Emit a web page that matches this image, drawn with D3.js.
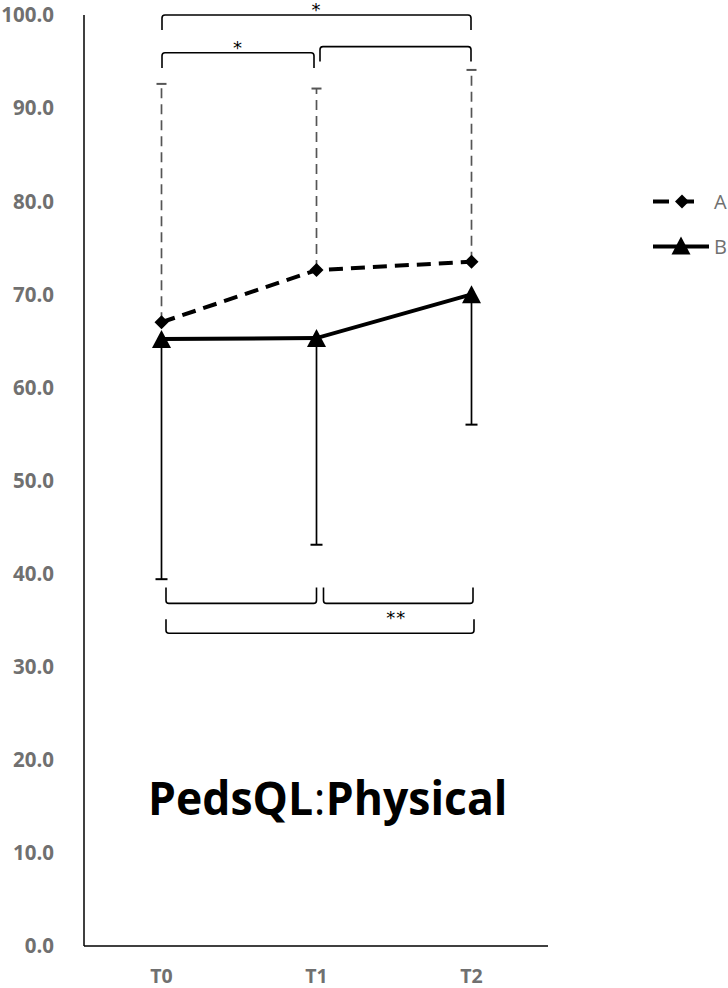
<!DOCTYPE html>
<html><head><meta charset="utf-8">
<script src="https://cdn.jsdelivr.net/npm/d3@7"></script>
<style>html,body{margin:0;padding:0;background:#fff}</style>
</head><body>
<script>
// ---- data ----
const categories = ["T0", "T1", "T2"];
const seriesNames = ["A", "B"];
const valuesA = [67.0, 72.6, 73.5];
const upperA = [92.6, 92.1, 94.1];      // error bar upper ends (A)
const valuesB = [65.2, 65.3, 70.0];
const lowerB = [39.4, 43.1, 56.0];      // error bar lower ends (B)
const yTicks = [0, 10, 20, 30, 40, 50, 60, 70, 80, 90, 100];
const titleParts = ["PedsQL", ":", "Physical"];
const titleWeights = ["bold", "normal", "bold"];
// significance brackets: from, to, bar level, leg end level, label
const bracketFrom = ["T0", "T0", "T1", "T0", "T1", "T0"];
const bracketTo   = ["T2", "T1", "T2", "T1", "T2", "T2"];
const bracketLevel = [100.0, 95.95, 96.6, 36.8, 36.8, 33.6];
const bracketLeg   = [98.4, 94.3, 95.0, 38.5, 38.5, 35.1];
const bracketLabel = ["*", "*", "", "", "**", ""];

// ---- layout ----
const W = 728, H = 988;
const svg = d3.select("body").append("svg").attr("width", W).attr("height", H)
  .style("font-family", "'Open Sans', sans-serif");

const x = d3.scalePoint().domain(categories).range([161.5, 471.5]);
const y = d3.scaleLinear().domain([0, 100]).range([946, 15]);
const axisX0 = 84, axisX1 = 548;

// axes lines
svg.append("line").attr("x1", axisX0).attr("x2", axisX0).attr("y1", y(100)).attr("y2", y(0))
  .attr("stroke", "#000").attr("stroke-width", 1.5);
svg.append("line").attr("x1", axisX0).attr("x2", axisX1).attr("y1", y(0)).attr("y2", y(0))
  .attr("stroke", "#000").attr("stroke-width", 1.5);

// y tick labels
svg.append("g").selectAll("text").data(yTicks).join("text")
  .attr("x", 54).attr("y", d => y(d)).attr("dy", "0.36em")
  .attr("text-anchor", "end").attr("font-weight", "bold").attr("font-size", 20.5)
  .attr("fill", "#707070").text(d => d.toFixed(1));

// x tick labels
svg.append("g").selectAll("text").data(categories).join("text")
  .attr("x", d => x(d)).attr("y", 983)
  .attr("text-anchor", "middle").attr("font-weight", "bold").attr("font-size", 19.5)
  .attr("fill", "#707070").text(d => d);

// error bars A (upper, dashed gray)
const gA = svg.append("g");
categories.forEach((c, i) => {
  gA.append("line").attr("x1", x(c)).attr("x2", x(c)).attr("y1", y(valuesA[i])).attr("y2", y(upperA[i]))
    .attr("stroke", "#555").attr("stroke-width", 1.7).attr("stroke-dasharray", "10,6");
  gA.append("line").attr("x1", x(c) - 5).attr("x2", x(c) + 5).attr("y1", y(upperA[i])).attr("y2", y(upperA[i]))
    .attr("stroke", "#555").attr("stroke-width", 2);
});
// error bars B (lower, solid black)
const gB = svg.append("g");
categories.forEach((c, i) => {
  gB.append("line").attr("x1", x(c)).attr("x2", x(c)).attr("y1", y(valuesB[i])).attr("y2", y(lowerB[i]))
    .attr("stroke", "#000").attr("stroke-width", 1.7);
  gB.append("line").attr("x1", x(c) - 6).attr("x2", x(c) + 6).attr("y1", y(lowerB[i])).attr("y2", y(lowerB[i]))
    .attr("stroke", "#000").attr("stroke-width", 2);
});

// lines
const line = d3.line().x((d, i) => x(categories[i])).y(d => y(d));
svg.append("path").datum(valuesA).attr("d", line).attr("fill", "none")
  .attr("stroke", "#000").attr("stroke-width", 4).attr("stroke-dasharray", "14,8");
svg.append("path").datum(valuesB).attr("d", line).attr("fill", "none")
  .attr("stroke", "#000").attr("stroke-width", 4);

// markers
function diamond(cx, cy, r) {
  const p = d3.path();
  p.moveTo(cx, cy - r); p.lineTo(cx + r, cy); p.lineTo(cx, cy + r); p.lineTo(cx - r, cy); p.closePath();
  return p.toString();
}
function triangle(cx, cy, w, h) {
  const p = d3.path();
  p.moveTo(cx, cy - h / 2); p.lineTo(cx + w / 2, cy + h / 2); p.lineTo(cx - w / 2, cy + h / 2); p.closePath();
  return p.toString();
}
svg.append("g").selectAll("path").data(valuesA).join("path")
  .attr("d", (d, i) => diamond(x(categories[i]), y(d), 7)).attr("fill", "#000");
svg.append("g").selectAll("path").data(valuesB).join("path")
  .attr("d", (d, i) => triangle(x(categories[i]), y(d), 19, 18)).attr("fill", "#000");

// brackets
const gBr = svg.append("g");
bracketFrom.forEach((f, i) => {
  const top = bracketLevel[i] > 50;
  let x1 = x(f), x2 = x(bracketTo[i]);
  if (top) { x1 += 0.5; if (bracketTo[i] === "T1") x2 -= 2; if (f === "T1") x1 += 3; x2 -= 0.5; }
  else { x1 += 4.5; if (bracketTo[i] === "T1") x2 -= 1.5; if (f === "T1") x1 += 2.5; x2 += bracketFrom[i]==="T0" && bracketTo[i]==="T2" ? 2.5 : 1.5; }
  const yb = y(bracketLevel[i]), yl = y(bracketLeg[i]);
  const dir = yl > yb ? 1 : -1;
  const p = d3.path();
  p.moveTo(x1, yl);
  p.lineTo(x1, yb + dir * 3);
  p.quadraticCurveTo(x1, yb, x1 + 3, yb);
  p.lineTo(x2 - 3, yb);
  p.quadraticCurveTo(x2, yb, x2, yb + dir * 3);
  p.lineTo(x2, yl);
  gBr.append("path").attr("d", p.toString()).attr("fill", "none").attr("stroke", "#000").attr("stroke-width", 1.6);
  if (bracketLabel[i]) {
    const tx = top ? (x1 + x2) / 2 : (x1 + x2) / 2 - 2;
    const ty = top ? yb + 1 : yb + 21;
    gBr.append("text").attr("x", tx).attr("y", ty).attr("text-anchor", "middle")
      .attr("font-family", "'DejaVu Sans', sans-serif")
      .attr("font-size", 18).attr("fill", "#000").attr("letter-spacing", 1).text(bracketLabel[i]);
  }
});

// title: three separate texts laid out side by side, then scaled to fit the target width
const titleX = 148, titleY = 815, titleW = 360;
const tg = svg.append("g");
let cursor = 0;
titleParts.forEach((s, i) => {
  const te = tg.append("text").attr("x", cursor).attr("y", 0).attr("font-size", 46)
    .attr("font-weight", titleWeights[i]).attr("fill", "#000").text(s);
  cursor += te.node().getComputedTextLength() + 0.5;
});
const sx = titleW / cursor;
tg.attr("transform", `translate(${titleX},${titleY}) scale(${sx},1)`);

// legend
const legY = [201.5, 246.5];
const lg = svg.append("g");
seriesNames.forEach((s, i) => {
  lg.append("line").attr("x1", 653).attr("x2", i === 0 ? 702 : 709).attr("y1", legY[i]).attr("y2", legY[i])
    .attr("stroke", "#000").attr("stroke-width", 4).attr("stroke-dasharray", i === 0 ? "16,9" : null);
  if (i === 0) lg.append("path").attr("d", diamond(682, legY[i], 7)).attr("fill", "#000");
  else lg.append("path").attr("d", triangle(681, legY[i] - 1, 19, 18)).attr("fill", "#000");
  lg.append("text").attr("x", 714).attr("y", legY[i]).attr("dy", "0.36em")
    .attr("font-size", 20).attr("fill", "#707070").text(s);
});
</script>
</body></html>
